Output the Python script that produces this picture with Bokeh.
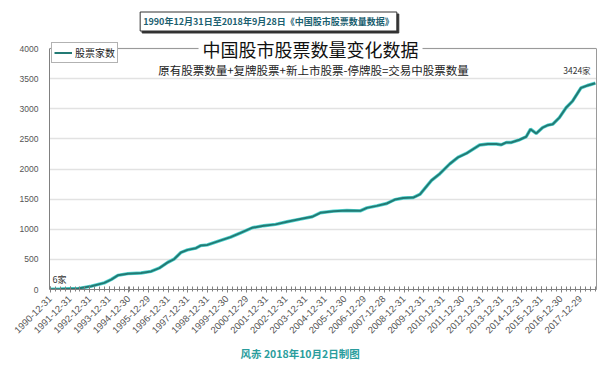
import math
import datetime as dt
from bokeh.plotting import figure
from bokeh.models import Range1d, FixedTicker, Label, Legend, LegendItem, LinearAxis, Span, Title
from bokeh.embed import file_html
from bokeh.resources import INLINE

# ---- data (decimal year, number of trading stocks) ----
years = [1990.997, 1991.5, 1992.0, 1992.40, 1993.08, 1993.74, 1994.09, 1994.43, 1994.94,
         1995.61, 1996.12, 1996.54, 1996.97, 1997.30, 1997.64, 1997.98, 1998.40, 1998.65,
         1998.99, 1999.67, 2000.17, 2000.68, 2001.28, 2001.86, 2002.46, 2003.05, 2003.72,
         2004.32, 2004.74, 2005.41, 2006.09, 2006.77, 2007.11, 2007.61, 2008.12, 2008.54,
         2008.96, 2009.47, 2009.81, 2010.40, 2010.82, 2011.33, 2011.75, 2012.18, 2012.85,
         2013.27, 2013.70, 2013.95, 2014.21, 2014.46, 2014.88, 2015.22, 2015.44, 2015.73,
         2016.06, 2016.32, 2016.57, 2016.91, 2017.25, 2017.58, 2018.01, 2018.34, 2018.74]
counts = [6, 8, 12, 15, 55, 110, 165, 235, 263,
          274, 300, 356, 450, 505, 614, 658, 686, 729,
          740, 815, 870, 940, 1026, 1059, 1081, 1124, 1169,
          1207, 1273, 1300, 1312, 1305, 1355, 1388, 1427, 1493,
          1519, 1526, 1580, 1811, 1920, 2085, 2194, 2260, 2398,
          2415, 2415, 2403, 2441, 2441, 2485, 2535, 2661, 2590,
          2688, 2727, 2744, 2853, 3017, 3127, 3346, 3386, 3424]

tick_labels = ["1990-12-31", "1991-12-31", "1992-12-31", "1993-12-31", "1994-12-30",
               "1995-12-29", "1996-12-31", "1997-12-31", "1998-12-31", "1999-12-30",
               "2000-12-29", "2001-12-31", "2002-12-31", "2003-12-31", "2004-12-31",
               "2005-12-30", "2006-12-29", "2007-12-28", "2008-12-31", "2009-12-31",
               "2010-12-31", "2011-12-30", "2012-12-31", "2013-12-31", "2014-12-31",
               "2015-12-31", "2016-12-30", "2017-12-29"]
y_ticks = [0, 500, 1000, 1500, 2000, 2500, 3000, 3500, 4000]
y_max = 4000

title_text = "中国股市股票数量变化数据"
subtitle_text = "原有股票数量+复牌股票+新上市股票-停牌股=交易中股票数量"
top_box_text = "1990年12月31日至2018年9月28日《中国股市股票数量数据》"
caption_text = "风赤  2018年10月2日制图"
series_name = "股票家数"
first_label = "6家"
last_label = "3424家"


def frac_year(s):
    d = dt.date.fromisoformat(s)
    doy = d.timetuple().tm_yday
    return d.year + (doy - 0.5) / 365.0


tick_pos = [frac_year(s) for s in tick_labels]
minor_pos = [1991.0 + 0.25 * i for i in range(0, 112)]

FONT = "Noto Sans CJK SC"
FRAME = "#9a9a9a"

# frame extends to the top of the canvas so the headings can live inside it;
# the value axis itself stops at 4000 (241 px for 4000 -> top at 289 px)
y_top = y_max * 289.0 / 241.0

p = figure(width=598, height=366, output_backend="svg", toolbar_location=None,
           x_range=Range1d(1990.95, 2018.80), y_range=Range1d(0, y_top),
           min_border_left=49, min_border_right=2, min_border_top=0, min_border_bottom=77)
p.background_fill_color = "white"
p.border_fill_color = "white"
p.outline_line_color = None

# grid
p.xgrid.grid_line_color = None
p.ygrid.grid_line_color = "#e2e2e2"
p.ygrid.grid_line_width = 1.5
p.yaxis.ticker = FixedTicker(ticks=y_ticks)
p.yaxis.bounds = (0, y_max)
p.xaxis.ticker = FixedTicker(ticks=tick_pos, minor_ticks=minor_pos)
p.xaxis.major_label_overrides = {t: l for t, l in zip(tick_pos, tick_labels)}
p.xaxis.major_label_orientation = math.pi / 4

for ax in (p.xaxis, p.yaxis):
    ax.axis_line_color = "#808080"
    ax.major_label_text_color = "#555555"
    ax.major_label_text_font = "Liberation Sans"
    ax.major_tick_line_color = "#808080"
    ax.minor_tick_line_color = "#808080"

p.yaxis.major_label_text_font_size = "8.5px"
p.yaxis.major_tick_out = 0
p.yaxis.major_tick_in = 0
p.yaxis.minor_tick_line_color = None
p.yaxis.major_label_standoff = 11

p.xaxis.major_label_text_font_size = "9.5px"
p.xaxis.major_tick_in = 3
p.xaxis.major_tick_out = 3
p.xaxis.minor_tick_in = 3
p.xaxis.minor_tick_out = 2
p.xaxis.major_label_standoff = 5

# right border as an empty axis, top border at 4000
right = LinearAxis(bounds=(0, y_max), ticker=FixedTicker(ticks=[]), axis_line_color=FRAME,
                   major_label_text_font_size="0px", major_tick_line_color=None,
                   minor_tick_line_color=None)
p.add_layout(right, "right")
p.add_layout(Span(location=y_max, dimension="width", line_color=FRAME, line_width=1))

# line
p.line(years, counts, line_color="#52d6d2", line_width=3.4)
main = p.line(years, counts, line_color="#237a74", line_width=2.0)

legend = Legend(items=[LegendItem(label=series_name, renderers=[main])], location=(2, 226))
legend.margin = 0
legend.padding = 2
legend.spacing = 0
legend.label_standoff = 3
legend.glyph_width = 18
legend.glyph_height = 9
legend.label_height = 9
legend.label_text_font = FONT
legend.label_text_font_size = "10px"
legend.label_text_color = "#222222"
legend.border_line_color = "#666666"
legend.border_line_width = 1
legend.background_fill_alpha = 1.0
p.add_layout(legend)

# headings inside the frame
p.add_layout(Label(x=2004.24, y=4000, text=title_text, text_align="center", text_baseline="middle",
                   text_font=FONT, text_font_size="18px", text_color="#111111",
                   background_fill_color="white", padding=4))
p.add_layout(Label(x=2004.39, y=3635, text=subtitle_text, text_align="center", text_baseline="middle",
                   text_font=FONT, text_font_size="11.5px", text_color="#222222"))
p.add_layout(Label(x=2018.50, y=3635, text=last_label, text_align="right", text_baseline="middle",
                   text_font=FONT, text_font_size="8.5px", text_color="#333333"))
p.add_layout(Label(x=1991.10, y=166, text=first_label, text_align="left", text_baseline="middle",
                   text_font=FONT, text_font_size="9px", text_color="#333333"))

# boxed heading at the top (with shadow)
p.add_layout(Label(x=2002.20, y=4415, text=top_box_text, text_align="center", text_baseline="middle",
                   text_font=FONT, text_font_size="9px", text_font_style="bold", text_color="#333333",
                   background_fill_color="#333333", border_line_color="#333333", padding=3))
p.add_layout(Label(x=2002.10, y=4448, text=top_box_text, text_align="center", text_baseline="middle",
                   text_font=FONT, text_font_size="9px", text_font_style="bold", text_color="#1b6070",
                   background_fill_color="white", border_line_color="#333333", border_line_width=1,
                   padding=3))

# caption below the axis
cap = Title(text=caption_text, align="left", offset=191, standoff=8,
            text_font=FONT, text_font_size="10.5px", text_font_style="bold", text_color="#2a9d9d")
p.add_layout(cap, "below")

open("out.html", "w").write(file_html(p, INLINE))
